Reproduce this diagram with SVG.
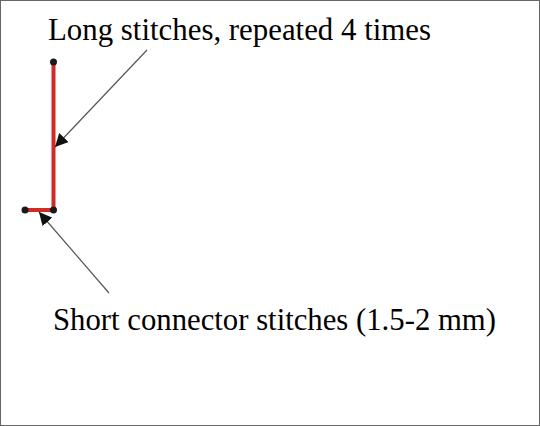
<svg xmlns="http://www.w3.org/2000/svg" width="540" height="426" viewBox="0 0 540 426">
<style>
.lbl{font-family:"Liberation Serif","Times New Roman",serif;font-size:31px;fill:#000}
.stitch{stroke:#d42a26;stroke-width:4;fill:none}
.dot{fill:#1a1a1a}
.lead{stroke:#555;stroke-width:1.2;fill:none}
</style>
<defs>
<marker id="ah" viewBox="0 0 10 10" refX="10" refY="5" markerWidth="13" markerHeight="13" markerUnits="userSpaceOnUse" orient="auto">
<path d="M0,0 L10,5 L0,10 z" fill="#111"/>
</marker>
</defs>
<rect x="0.5" y="0.5" width="539" height="425" fill="#fff" stroke="#666" stroke-width="1"/>
<g id="stitches">
<path class="stitch" d="M53.5,62 V210 H25"/>
<circle class="dot" cx="53.5" cy="62" r="3.5"/>
<circle class="dot" cx="53.5" cy="210" r="3.5"/>
<circle class="dot" cx="25" cy="210" r="3.5"/>
</g>
<g id="connectors">
<line class="lead" x1="147" y1="50" x2="55" y2="147" marker-end="url(#ah)"/>
<line class="lead" x1="109" y1="293" x2="39" y2="212" marker-end="url(#ah)"/>
</g>
<g id="label-long"><text class="lbl" x="48" y="40" textLength="383" lengthAdjust="spacingAndGlyphs">Long stitches, repeated 4 times</text></g>
<g id="label-short"><text class="lbl" x="53" y="330" textLength="443" lengthAdjust="spacingAndGlyphs">Short connector stitches (1.5-2 mm)</text></g>
</svg>
